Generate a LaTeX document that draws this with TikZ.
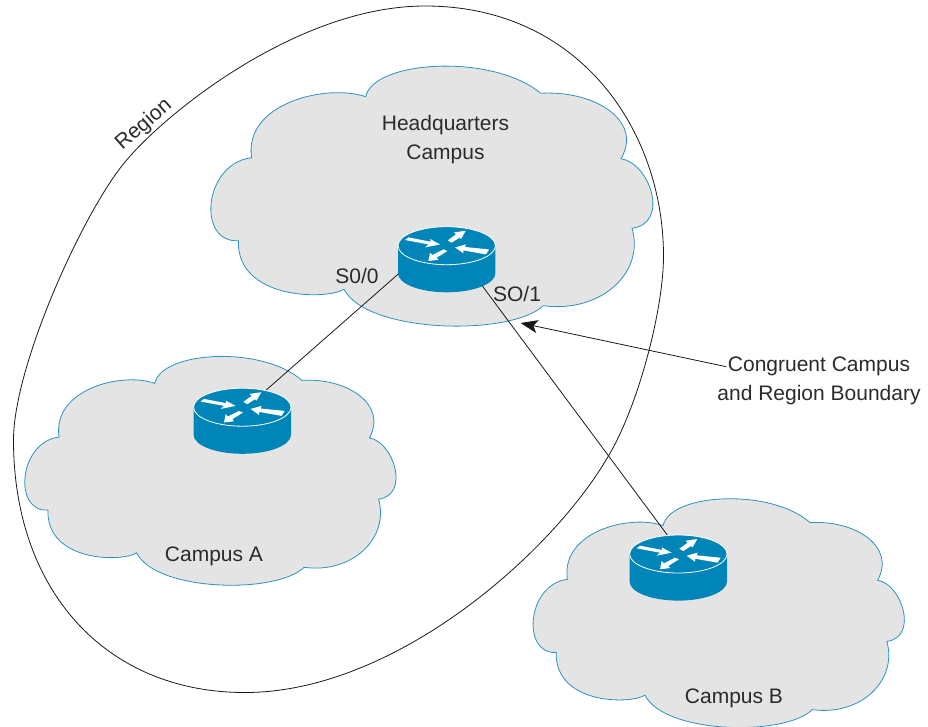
\documentclass[tikz,border=0pt]{standalone}
\usepackage{fontspec}
\setmainfont{Liberation Sans}
\usetikzlibrary{arrows.meta}
\usetikzlibrary{calc}
\definecolor{routerblue}{HTML}{0085B8}
\definecolor{cloudgray}{HTML}{E4E4E4}
\definecolor{cloudline}{HTML}{2A93C2}
\definecolor{labelgray}{HTML}{2B2B2B}
\tikzset{
  campuscloud/.pic={
    \draw[cloudline, fill=cloudgray, line width=0.8pt] (-65.7,-99.6)
      .. controls (-58,-136.3) and (62,-143) .. (109.3,-103)
      .. controls (162,-106.3) and (212,-76.3) .. (189.7,-37.6)
      .. controls (218.6,-33) and (238.6,27) .. (200.7,32)
      .. controls (213.7,77) and (168.7,117) .. (112,109.4)
      .. controls (78.7,140.4) and (-64.7,137) .. (-87.3,93)
      .. controls (-104.7,103.7) and (-194.7,103.7) .. (-193,44.4)
      .. controls (-234.7,47) and (-228,-33) .. (-179.7,-38.6)
      .. controls (-188,-93) and (-104.7,-113) .. (-65.7,-99.6) -- cycle;
  },
  routerpic/.pic={
    \fill[routerblue] (-48.7,-13.8) -- (-48.7,13.8) arc[start angle=180, end angle=360, x radius=48.7pt, y radius=19pt]
      -- (48.7,-13.8) -- cycle;
    \draw[white, fill=routerblue, line width=0.8pt] (0,-13.8) ellipse[x radius=48.7pt, y radius=19pt];
    \fill[white] (-41.7,-19.5) -- (-38.3,-22.1) -- (-16,-17.8) -- (-16.7,-20.5) -- (-6.7,-15.1) -- (-21.7,-12.1) -- (-18.3,-15.1) -- cycle;
    \fill[white] (1,-19.1) -- (5,-16.8) -- (12.7,-21.8) -- (14.3,-20.5) -- (19,-28.8) -- (7.3,-27.1) -- (9.3,-25.1) -- cycle;
    \fill[white] (42.3,-10.1) -- (18.3,-12.5) -- (19.3,-15.1) -- (8.3,-12.1) -- (16.7,-6.1) -- (16.7,-9.1) -- (39.3,-5.1) -- cycle;
    \fill[white] (-3.3,-10.1) -- (0.7,-8.5) -- (-10,-1.8) -- (-8.3,0.2) -- (-18.3,1.5) -- (-16.7,-6.8) -- (-14.3,-4.5) -- cycle;
  }
}
\begin{document}
\begin{tikzpicture}[x=1pt, y=-1pt, link/.style={black!90, line width=0.8pt},
    txt/.style={text=labelgray, font=\fontsize{21}{29}\selectfont, align=center, inner sep=0pt},
    routerbox/.style={minimum width=97.4pt, minimum height=65.6pt, inner sep=0pt}]
  \useasboundingbox (0,0) rectangle (928,726);

  \draw[link] (425,6)
    .. controls (580,6) and (663.5,131) .. (663.5,256)
    .. controls (663.5,310) and (638,407) .. (608,456.7)
    .. controls (552,553) and (395,692.5) .. (245,692.5)
    .. controls (105,692.5) and (13.5,590) .. (13.5,440)
    .. controls (13.5,365) and (85,208) .. (126.7,160)
    .. controls (169,110) and (300,6) .. (425,6) -- cycle;

  \pic[xscale=1, yscale=1] at (431.35,196.3) {campuscloud};
  \pic[xscale=0.84, yscale=0.88] at (210,471) {campuscloud};
  \pic[xscale=0.84, yscale=0.88] at (718.3,613.3) {campuscloud};

  \node[routerbox] at (446.7,259.5) (hqrouter) {};
  \node[routerbox] at (242.3,421) (arouter) {};
  \node[routerbox] at (678.3,567.8) (brouter) {};

  \draw[link] ($(hqrouter)+(0,-28)$) -- ($(arouter)+(0,-10)$);
  \draw[link] ($(hqrouter)+(0,-21.5)$) -- ($(brouter)+(0,-18)$);

  \pic at (hqrouter) {routerpic};
  \pic at (arouter) {routerpic};
  \pic at (brouter) {routerpic};

  \node[txt] at (445.5,140) (hqlabel) {Headquarters\\Campus};
  \node[txt] at (357,276) (sport0) {S0/0};
  \node[txt] at (517,294) (sport1) {SO/1};
  \node[txt] at (214,556) (alabel) {Campus A};
  \node[txt] at (734,698) (blabel) {Campus B};
  \node[txt, rotate=41] at (144,125) (regionlabel) {Region};
  \node[txt] at (819,381) (congruent) {Congruent Campus\\and Region Boundary};

  \coordinate (boundary) at (520.7,323);
  \draw[link, -{Stealth[length=17pt, width=13pt, inset=4pt]}] ($(congruent.west)+(9,-14.3)$) -- (boundary);
\end{tikzpicture}
\end{document}
